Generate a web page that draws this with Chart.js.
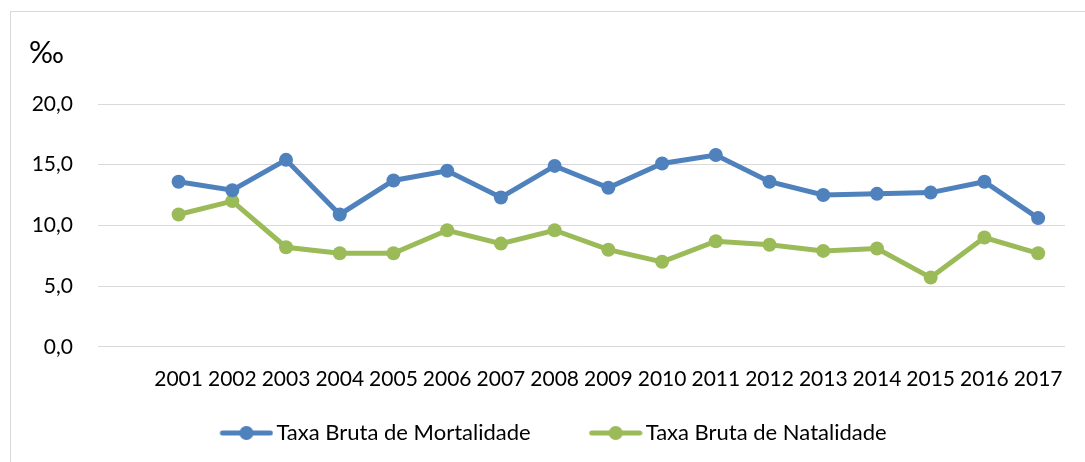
<!DOCTYPE html>
<html>
<head>
<meta charset="utf-8">
<script src="https://cdn.jsdelivr.net/npm/chart.js@4"></script>
<style>
  html, body { margin:0; padding:0; background:#fff; overflow:hidden; }
  #wrap { position:relative; width:1085px; height:462px; }
  #frame { position:absolute; left:10px; top:11px; width:1100px; height:480px; border-left:1px solid #d9d9d9; border-top:1px solid #d9d9d9; }
  canvas { position:absolute; left:0; top:0; }
</style>
</head>
<body>
<div id="wrap">
  <div id="frame"></div>
  <canvas id="c" width="1085" height="462"></canvas>
</div>
<script>
// datos (‰)
const anos = ['', '2001','2002','2003','2004','2005','2006','2007','2008','2009','2010','2011','2012','2013','2014','2015','2016','2017']
const mortalidade = [null, 13.6, 12.9, 15.4, 10.9, 13.7, 14.5, 12.3, 14.9, 13.1, 15.1, 15.8, 13.6, 12.5, 12.6, 12.7, 13.6, 10.6]
const natalidade  = [null, 10.9, 12.0, 8.2, 7.7, 7.7, 9.6, 8.5, 9.6, 8.0, 7.0, 8.7, 8.4, 7.9, 8.1, 5.7, 9.0, 7.7]
const yTicks = [0, 5, 10, 15, 20]

const AZUL = '#4F81BD'
const VERDE = '#9BBB59'
const FONT = 'Lato, "Open Sans", sans-serif'
const BOX = 94 // ancho de la caja de leyenda

// marcador de leyenda: línea con círculo, pegado a la derecha del lienzo
const marker = (color) => {
  const cv = document.createElement('canvas')
  cv.width = BOX + 16; cv.height = 14
  const x0 = cv.width - 54
  const g = cv.getContext('2d')
  g.strokeStyle = color; g.lineWidth = 5; g.lineCap = 'round'
  g.beginPath(); g.moveTo(x0 + 3, 7); g.lineTo(x0 + 51, 7); g.stroke()
  g.fillStyle = color
  g.beginPath(); g.arc(x0 + 27, 7, 7, 0, Math.PI*2); g.fill()
  return cv
}

const unidade = {
  id: 'unidade',
  afterDraw(chart) {
    const ctx = chart.ctx
    ctx.save()
    ctx.font = `30px ${FONT}`
    ctx.fillStyle = '#000'
    ctx.textBaseline = 'middle'
    ctx.fillText('‰', 29, 53)
    ctx.restore()
  }
}

const serie = (label, data, color) => ({
  label, data,
  borderColor: color, backgroundColor: color,
  borderWidth: 5, pointRadius: 7, pointHoverRadius: 7,
  pointBackgroundColor: color, pointBorderWidth: 0,
  tension: 0, spanGaps: false
})

new Chart(document.getElementById('c').getContext('2d'), {
  type: 'line',
  data: {
    labels: anos,
    datasets: [
      serie('Taxa Bruta de Mortalidade', mortalidade, AZUL),
      serie('Taxa Bruta de Natalidade', natalidade, VERDE)
    ]
  },
  options: {
    responsive: false, animation: false,
    layout: { padding: { left: -7, right: 20, top: 104, bottom: 8 } },
    scales: {
      x: {
        offset: true,
        grid: { display: false, drawTicks: false },
        border: { display: false },
        ticks: { color: '#000', font: { family: FONT, size: 21 }, padding: 20, maxRotation: 0, autoSkip: false }
      },
      y: {
        min: 0, max: 20,
        afterBuildTicks: s => { s.ticks = yTicks.map(v => ({ value: v })) },
        grid: { color: '#d9d9d9', lineWidth: 1, drawTicks: false },
        border: { display: false },
        ticks: { color: '#000', font: { family: FONT, size: 21 }, padding: 25,
          callback: v => v.toFixed(1).replace('.', ',') },
        afterFit: s => { s.width = 105 }
      }
    },
    plugins: {
      legend: {
        position: 'bottom',
        labels: {
          color: '#000', font: { family: FONT, size: 22 },
          usePointStyle: true, pointStyleWidth: BOX, padding: 10,
          generateLabels: (chart) => Chart.defaults.plugins.legend.labels.generateLabels(chart)
            .map(it => ({ ...it, pointStyle: marker(chart.data.datasets[it.datasetIndex].borderColor) }))
        }
      },
      tooltip: { enabled: false }
    }
  },
  plugins: [unidade]
})
</script>
</body>
</html>
